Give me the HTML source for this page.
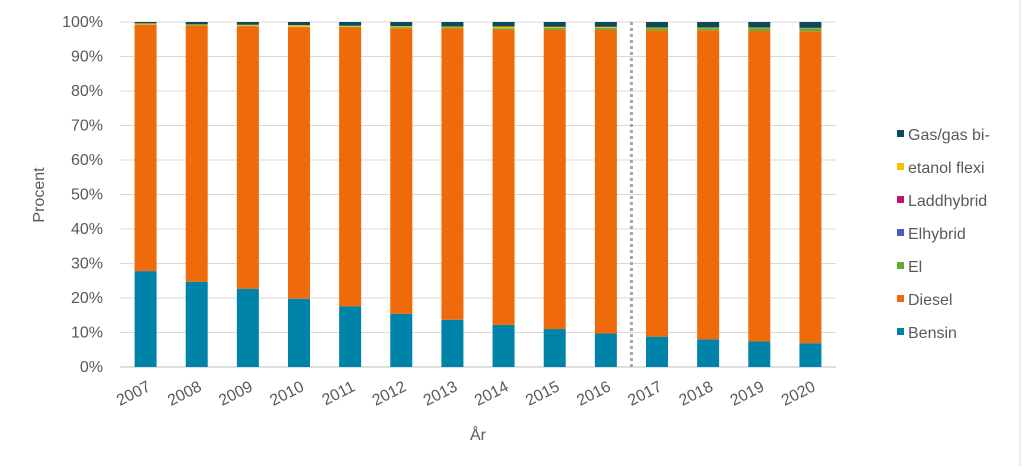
<!DOCTYPE html>
<html><head><meta charset="utf-8"><style>
body{margin:0;background:#fff;font-family:"Liberation Sans",sans-serif}
svg text{font-family:"Liberation Sans",sans-serif;fill:#595959}
</style></head><body>
<svg width="1024" height="466">
<line x1="1020" y1="0" x2="1020" y2="466" stroke="#d9d9d9"/>
<g id="grid"></g><g id="bars"></g><g id="axes"></g><g id="legend"></g>
<text x="44" y="195" font-size="16" text-anchor="middle" transform="rotate(-90 44 195)">Procent</text>
<text x="478" y="440" font-size="16" text-anchor="middle">År</text>
</svg>
<script>
const years=["2007","2008","2009","2010","2011","2012","2013","2014","2015","2016","2017","2018","2019","2020"];
const bensin=[27.8,24.7,22.7,19.8,17.6,15.4,13.7,12.2,11.0,9.7,8.8,8.0,7.4,6.9];
const el=[0.1,0.1,0.1,0.1,0.2,0.3,0.3,0.4,0.5,0.5,0.6,0.6,0.7,0.8];
const elhybrid=[0,0,0,0,0,0,0,0,0,0,0,0,0,0];
const laddhybrid=[0,0,0,0,0,0,0,0,0,0,0,0,0.1,0.1];
const etanol=[0.3,0.2,0.3,0.5,0.3,0.3,0.2,0.5,0.3,0.3,0.2,0.2,0.2,0.1];
const gas=[0.4,0.7,0.8,0.9,1.1,1.2,1.3,1.3,1.4,1.4,1.6,1.6,1.6,1.7];
const yTicks=[0,10,20,30,40,50,60,70,80,90,100];
const ns="http://www.w3.org/2000/svg";
const x0=120,x1=836,yb=367,yt=22;
const bw=(x1-x0)/years.length;
const xs=i=>x0+bw*(i+0.5);
const ys=v=>yb-(yb-yt)*v/100;
function mk(t,a,p){const e=document.createElementNS(ns,t);for(const k in a)e.setAttribute(k,a[k]);p.appendChild(e);return e;}
const G=document.getElementById('grid'),B=document.getElementById('bars'),A=document.getElementById('axes'),L=document.getElementById('legend');
yTicks.forEach(v=>{
 const l=mk('line',{x1:x0,x2:x1,y1:ys(v),y2:ys(v),stroke:v==0?'#bfbfbf':'#d9d9d9'},G);
 
 
 const t=mk('text',{x:x0-17,y:ys(v)+5,'font-size':16,'text-anchor':'end'},A);t.textContent=v+'%';
 
 
});
const series=[["Bensin",bensin,"#0083a9"],["Diesel",null,"#ee6a0a"],["El",el,"#5dae32"],["Elhybrid",elhybrid,"#4c5bc0"],["Laddhybrid",laddhybrid,"#c0136e"],["etanol flexi",etanol,"#f5c000"],["Gas/gas bi-",gas,"#0b4a5e"]];
years.forEach((y,i)=>{
 let other=0;series.forEach(s=>{if(s[1])other+=s[1][i];});
 let acc=0;
 series.forEach(s=>{
  const v=s[1]?s[1][i]:100-other;
  if(v<=0){return;}
  const r=mk('rect',{x:xs(i)-11,width:22,y:ys(acc+v),height:ys(acc)-ys(acc+v),fill:s[2]},B);
  
  
  acc+=v;
 });
 const t=mk('text',{x:xs(i)+6,y:390,'font-size':16,'text-anchor':'end',transform:`rotate(-27 ${xs(i)+6} 390)`},A);t.textContent=y;
 
 
});
const dx=(xs(9)+xs(10))/2;
const d=mk('line',{x1:dx,x2:dx,y1:yt,y2:yb,stroke:'#a6a6a6','stroke-width':3,'stroke-dasharray':'3,3'},B);


series.slice().reverse().forEach((s,k)=>{
 const yy=134+k*33;
 const g=mk('g',{},L);
 
 
 mk('rect',{x:897,y:yy-4,width:7,height:7,fill:s[2]},g);
 const t=mk('text',{x:908,y:yy+6,'font-size':16},g);t.textContent=s[0];
});
</script>
</body></html>
